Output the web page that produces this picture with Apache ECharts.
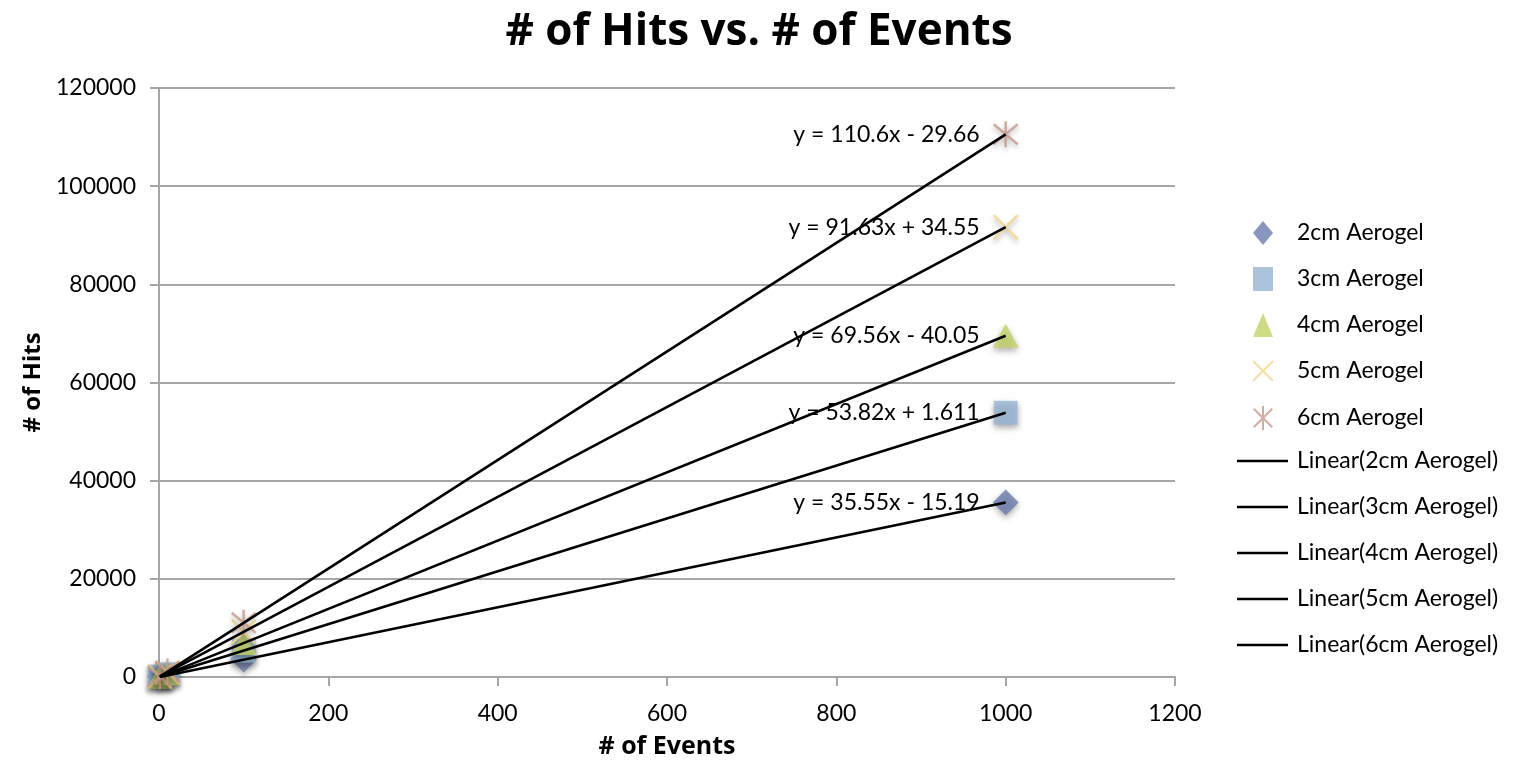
<!DOCTYPE html>
<html><head><meta charset="utf-8">
<script src="https://cdn.jsdelivr.net/npm/echarts@6/dist/echarts.min.js"></script>
<style>html,body{margin:0;padding:0;background:#fff}#c{width:1524px;height:783px}</style>
</head><body><div id="c"></div>
<script>
const seriesNames = ['2cm Aerogel','3cm Aerogel','4cm Aerogel','5cm Aerogel','6cm Aerogel'];
const eventCounts = [1, 10, 100, 1000];
const hits2cm = [35, 350, 3540, 35540];
const hits3cm = [55, 540, 5390, 53820];
const hits4cm = [70, 690, 6930, 69520];
const hits5cm = [95, 920, 9180, 91660];
const hits6cm = [110, 1100, 11040, 110570];
const trendSlopes = [35.55, 53.82, 69.56, 91.63, 110.6];
const trendIntercepts = [-15.19, 1.611, -40.05, 34.55, -29.66];
const trendLabels = ['y = 35.55x - 15.19','y = 53.82x + 1.611','y = 69.56x - 40.05','y = 91.63x + 34.55','y = 110.6x - 29.66'];
const xTicks = {min:0, max:1200, interval:200};
const yTicks = {min:0, max:120000, interval:20000};

const allHits = [hits2cm, hits3cm, hits4cm, hits5cm, hits6cm];
const colors = ['#6c7cae','#96b5d2','#c6d166','#f2d68a','#c4978a'];
const symbols = ['diamond','rect','triangle','path://M-1,-1L1,1M-1,1L1,-1','path://M-1,-1L1,1M-1,1L1,-1M0,-1.3L0,1.3'];
const sizes = [[26,26],[24,24],[26,24],[24,24],[24,26]];
const font = 'Lato, "Open Sans", sans-serif';
const boldFont = '"Open Sans", Lato, sans-serif';
const lineNames = seriesNames.map(n => 'Linear(' + n + ')');

const series = [];
seriesNames.forEach((n,i)=>{
  const stroke = i>=3;
  series.push({
    name:n, type:'scatter', z:2,
    symbol:symbols[i], symbolSize:sizes[i],
    data: eventCounts.map((x,k)=>[x, allHits[i][k]]),
    itemStyle: stroke ? {color:'rgba(0,0,0,0)', borderColor:colors[i], borderWidth:2.5, shadowBlur:5, shadowColor:'rgba(0,0,0,0.35)', shadowOffsetY:3}
                      : {color:colors[i], shadowBlur:6, shadowColor:'rgba(0,0,0,0.4)', shadowOffsetY:3}
  });
});
const x0 = eventCounts[0], x1 = eventCounts[eventCounts.length-1];
seriesNames.forEach((n,i)=>{
  series.push({
    name:lineNames[i], type:'line', z:5,
    symbol:'none',
    lineStyle:{color:'#000', width:2.6}, itemStyle:{color:'#000'},
    data:[[x0, trendSlopes[i]*x0 + trendIntercepts[i]], [x1, trendSlopes[i]*x1 + trendIntercepts[i]]]
  });
});
series.push({
  name:'trend labels', type:'scatter', z:4, symbolSize:0, silent:true,
  itemStyle:{opacity:1},
  data: trendLabels.map((t,i)=>({value:[x1, trendSlopes[i]*x1 + trendIntercepts[i]], text:t})),
  label:{show:true, position:'left', distance:26, color:'#000', opacity:1, textBorderWidth:0, fontSize:23, fontFamily:font,
    formatter: p => p.data.text}
});

const chart = echarts.init(document.getElementById('c'));
chart.setOption({
  animation:false,
  title:{text:'# of Hits vs. # of Events', left:754, textAlign:'center', top:5,
    textStyle:{fontSize:44, fontWeight:'bold', fontFamily:boldFont, color:'#000'}},
  grid:{left:159, right:349, top:88, bottom:106},
  legend:[
    {data:seriesNames, orient:'vertical', left:1252, top:221, padding:0, itemWidth:20, itemHeight:24, itemGap:22,
     textStyle:{fontSize:23, lineHeight:24, fontFamily:font, color:'#000', padding:[0,0,0,19]}},
    {data:lineNames.map(n=>({name:n, icon:'rect'})), orient:'vertical', left:1237, top:449, padding:0, itemWidth:51, itemHeight:2.6, itemGap:22,
     itemStyle:{color:'#000'},
     textStyle:{fontSize:23, lineHeight:24, fontFamily:font, color:'#000', padding:[0,0,0,4]}}
  ],
  xAxis:{type:'value', min:xTicks.min, max:xTicks.max, interval:xTicks.interval,
    name:'# of Events', nameLocation:'middle', nameGap:57,
    nameTextStyle:{fontSize:25, fontWeight:'bold', fontFamily:boldFont, color:'#000'},
    axisLine:{lineStyle:{color:'#a6a6a6', width:2}}, axisTick:{show:true, length:9, lineStyle:{color:'#a6a6a6', width:2}},
    axisLabel:{fontSize:23, fontFamily:font, color:'#000', margin:25, formatter: v => String(v)},
    splitLine:{show:false}},
  yAxis:{type:'value', min:yTicks.min, max:yTicks.max, interval:yTicks.interval,
    name:'# of Hits', nameLocation:'middle', nameGap:113, nameRotate:90,
    nameTextStyle:{fontSize:24, fontWeight:'bold', fontFamily:boldFont, color:'#000'},
    axisLine:{show:true, lineStyle:{color:'#a6a6a6', width:2}}, axisTick:{show:true, length:9, lineStyle:{color:'#a6a6a6', width:2}},
    axisLabel:{fontSize:23, fontFamily:font, color:'#000', margin:23, formatter: v => String(v)},
    splitLine:{show:true, lineStyle:{color:'#a6a6a6', width:2}}},
  series
});
</script></body></html>
